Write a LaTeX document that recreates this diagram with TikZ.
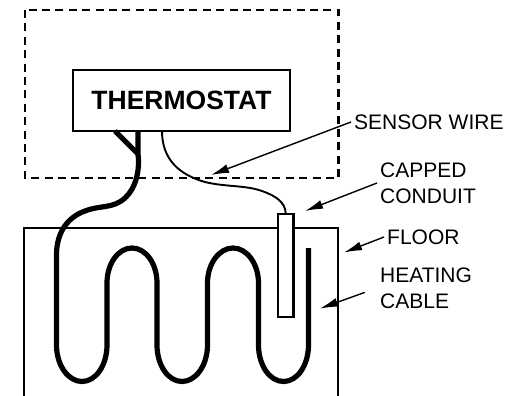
\documentclass[tikz,border=0pt]{standalone}
\usepackage{fontspec}
\setmainfont{Liberation Sans}
\usetikzlibrary{arrows.meta}
\tikzset{
  callout/.style={anchor=west,inner sep=3pt,align=left,font=\fontsize{21}{26}\selectfont},
  cable/.style={line width=5.2pt,line join=round},
  leader/.style={line width=1.4pt,-{Latex[length=18pt,width=9pt]}}
}
\begin{document}
\begin{tikzpicture}[x=1pt,y=-1pt]
  \useasboundingbox (0,0) rectangle (517,396);
  \draw[line width=2.4pt,dash pattern=on 8pt off 5.4pt] (25,10) rectangle (338.5,178);
  \draw[line width=2pt] (24,396) -- (24,228) -- (338,228) -- (338,396);
  \draw
    (181.5,100.5) node (thermostat)[draw,line width=2.4pt,fill=white,minimum width=217pt,minimum height=61pt,inner sep=0pt,font=\fontsize{26.5}{30}\bfseries]{THERMOSTAT}
    (285.7,265.5) node (conduit)[draw,line width=2.2pt,fill=white,minimum width=15.5pt,minimum height=102.5pt,inner sep=0pt]{}
    (351,122) node (wirelabel)[callout]{SENSOR WIRE}
    (377,183) node (conduitlabel)[callout]{CAPPED\\CONDUIT}
    (384,237) node (floorlabel)[callout]{FLOOR}
    (377,288) node (cablelabel)[callout]{HEATING\\CABLE};
  \coordinate (wiretop) at (162,131);
  \coordinate (cabletop) at (138,131);
  \coordinate (branchtop) at (115,131);
  \coordinate (branchend) at (138,154);
  \coordinate (cableend) at (308.5,248);
  \coordinate (wiretip) at (211,175);
  \coordinate (conduittip) at (305,211);
  \coordinate (floortip) at (344,252.5);
  \coordinate (cabletip) at (320,308.5);
  \draw[line width=1.9pt] (wiretop) .. controls (162,160) and (180,175) .. (205,182)
    .. controls (225,187) and (245,185) .. (262,191)
    .. controls (276,196) and (285,202) .. (conduit.north);
  \begin{scope}[cable]
    \draw (branchtop) to (branchend);
    \draw (cabletop) -- (branchend) .. controls (140,170) and (136,188) .. (125,198)
      .. controls (113,209) and (100,205) .. (85,211)
      .. controls (68,217) and (56.5,232) .. (56.5,255)
      -- (56.5,345) .. controls +(0,20) and +(-14,0) .. (82,381.5)
      .. controls +(14,0) and +(0,20) .. (107,345)
      -- (107,283) .. controls +(0,-19) and +(-14,0) .. (132,248)
      .. controls +(14,0) and +(0,-19) .. (157,283)
      -- (157,345) .. controls +(0,20) and +(-14,0) .. (182,381.5)
      .. controls +(14,0) and +(0,20) .. (207.5,345)
      -- (207.5,283) .. controls +(0,-19) and +(-14,0) .. (233,248)
      .. controls +(14,0) and +(0,-19) .. (258.5,283)
      -- (258.5,345) .. controls +(0,20) and +(-14,0) .. (283.5,381.5)
      .. controls +(14,0) and +(0,20) .. (308.5,345)
      -- (cableend);
  \end{scope}
  \begin{scope}[leader]
    \draw (wirelabel.west) to (wiretip);
    \draw (conduitlabel.west) to (conduittip);
    \draw (floorlabel.west) to (floortip);
    \draw[shorten <=13pt] (cablelabel.west) to (cabletip);
  \end{scope}
\end{tikzpicture}
\end{document}
